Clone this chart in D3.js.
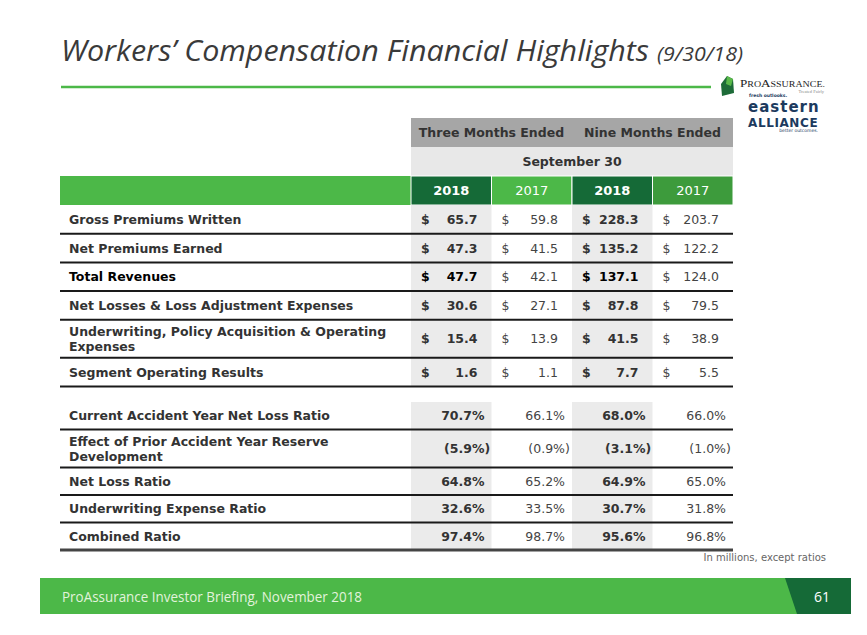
<!DOCTYPE html>
<html><head><meta charset="utf-8">
<script src="https://cdn.jsdelivr.net/npm/d3@7"></script>
<style>
html,body{margin:0;padding:0;background:#fff;}
svg{display:block;}
</style></head>
<body>
<script>
// ---------- DATA ----------
const title = "Workers\u2019 Compensation Financial Highlights";
const subtitle = "(9/30/18)";
const periodHeaders = ["Three Months Ended", "Nine Months Ended"];
const dateHeader = "September 30";
const columns = ["q3_2018", "q3_2017", "ytd_2018", "ytd_2017"];
const yearLabels = ["2018", "2017", "2018", "2017"];

const finCategories = ["Gross Premiums Written", "Net Premiums Earned", "Total Revenues",
  "Net Losses & Loss Adjustment Expenses", "Underwriting, Policy Acquisition & Operating|Expenses",
  "Segment Operating Results"];
const fin_q3_2018 = [65.7, 47.3, 47.7, 30.6, 15.4, 1.6];
const fin_q3_2017 = [59.8, 41.5, 42.1, 27.1, 13.9, 1.1];
const fin_ytd_2018 = [228.3, 135.2, 137.1, 87.8, 41.5, 7.7];
const fin_ytd_2017 = [203.7, 122.2, 124.0, 79.5, 38.9, 5.5];

const ratioCategories = ["Current Accident Year Net Loss Ratio", "Effect of Prior Accident Year Reserve|Development",
  "Net Loss Ratio", "Underwriting Expense Ratio", "Combined Ratio"];
const ratio_q3_2018 = [70.7, -5.9, 64.8, 32.6, 97.4];
const ratio_q3_2017 = [66.1, -0.9, 65.2, 33.5, 98.7];
const ratio_ytd_2018 = [68.0, -3.1, 64.9, 30.7, 95.6];
const ratio_ytd_2017 = [66.0, -1.0, 65.0, 31.8, 96.8];

const footnote = "In millions, except ratios";
const footerText = "ProAssurance Investor Briefing, November 2018";
const pageNumber = "61";

// ---------- LAYOUT ----------
const W = 867, H = 635;
const svg = d3.select("body").append("svg").attr("width", W).attr("height", H);
const dark = "#333333", greenL = "#4cb848", greenD = "#156a37", greenM = "#3d9b3c";
const FONT = "'DejaVu Sans', Verdana, sans-serif";
const TFONT = "'Open Sans', 'Liberation Sans', sans-serif";

// Title
svg.append("text").attr("x", 61).attr("y", 61).attr("font-family", TFONT).attr("font-weight", 400)
  .attr("font-style", "italic").attr("font-size", 30).attr("fill", "#3a3a3a")
  .attr("textLength", 588).attr("lengthAdjust", "spacingAndGlyphs").text(title);
svg.append("text").attr("x", 657).attr("y", 61).attr("font-family", TFONT).attr("font-weight", 400)
  .attr("font-style", "italic").attr("font-size", 20).attr("fill", "#3a3a3a")
  .attr("textLength", 86).attr("lengthAdjust", "spacingAndGlyphs").text(subtitle);
svg.append("line").attr("x1", 61).attr("x2", 711).attr("y1", 87).attr("y2", 87)
  .attr("stroke", greenL).attr("stroke-width", 2.5);

// Logo
const logo = svg.append("g");
logo.append("path").attr("d", "M727,76 L733,79 L734,93 L722,96 L721,84 Z").attr("fill", "#1d6b38");
logo.append("path").attr("d", "M727,76 L733,79 L731,86 L726,84 Z").attr("fill", "#5ab94a");
logo.append("text").attr("x", 740).attr("y", 87).attr("font-family", "'Liberation Serif', serif")
  .attr("font-size", 10.5).attr("fill", "#222").attr("textLength", 85).attr("lengthAdjust", "spacingAndGlyphs")
  .html("P<tspan font-size='8'>RO</tspan>A<tspan font-size='8'>SSURANCE.</tspan>");
logo.append("text").attr("x", 824).attr("y", 93).attr("text-anchor", "end").attr("font-family", "'Liberation Serif', serif")
  .attr("font-size", 4.5).attr("fill", "#888").text("Treated Fairly");
logo.append("text").attr("x", 749).attr("y", 97).attr("font-family", FONT).attr("font-weight", "bold")
  .attr("font-size", 4.5).attr("fill", "#1c3a5e").text("fresh outlooks.");
logo.append("text").attr("x", 748).attr("y", 112).attr("font-family", FONT).attr("font-weight", "bold")
  .attr("font-size", 15).attr("letter-spacing", 1).attr("fill", "#1c3a5e").text("eastern");
logo.append("text").attr("x", 748).attr("y", 126.5).attr("font-family", FONT).attr("font-weight", "bold")
  .attr("font-size", 12).attr("letter-spacing", 0.6).attr("fill", "#1c3a5e").text("ALLIANCE");
logo.append("text").attr("x", 818).attr("y", 132).attr("text-anchor", "end").attr("font-family", FONT)
  .attr("font-size", 4.5).attr("fill", "#1c3a5e").text("better outcomes.");

// Column scale
const x = d3.scaleBand().domain(columns).range([411, 733]).padding(0);
const bw = x.bandwidth();
const labelX0 = 60, labelX = 69, tableRight = 733;

// Header bands
svg.append("rect").attr("x", 411).attr("y", 118).attr("width", tableRight - 411).attr("height", 29).attr("fill", "#a6a6a6");
svg.append("rect").attr("x", 411).attr("y", 147).attr("width", tableRight - 411).attr("height", 29).attr("fill", "#e8e8e8");
periodHeaders.forEach((t, i) => {
  svg.append("text").attr("x", x(columns[i * 2]) + bw).attr("y", 137).attr("text-anchor", "middle")
    .attr("font-family", FONT).attr("font-weight", "bold").attr("font-size", 12.5).attr("fill", dark).text(t);
});
svg.append("text").attr("x", (411 + tableRight) / 2).attr("y", 166).attr("text-anchor", "middle")
  .attr("font-family", FONT).attr("font-weight", "bold").attr("font-size", 12.5).attr("fill", dark).text(dateHeader);

// Year row
const yearFill = [greenD, greenL, greenD, greenM];
svg.append("rect").attr("x", labelX0).attr("y", 176).attr("width", 411 - labelX0).attr("height", 29).attr("fill", greenL);
svg.selectAll("rect.year").data(columns).enter().append("rect").attr("class", "year")
  .attr("x", d => x(d)).attr("y", 176).attr("width", bw).attr("height", 29)
  .attr("fill", (d, i) => yearFill[i]).attr("stroke", "#fff").attr("stroke-width", 1);
svg.selectAll("text.year").data(columns).enter().append("text").attr("class", "year")
  .attr("x", d => x(d) + bw / 2).attr("y", 195).attr("text-anchor", "middle")
  .attr("font-family", FONT).attr("font-size", 13).attr("fill", "#fff")
  .attr("font-weight", (d, i) => i % 2 === 0 ? "bold" : "normal").text((d, i) => yearLabels[i]);

// Section builder
function section(cats, series, y0, single, dbl, fmt, lastStyle) {
  const heights = cats.map(c => c.includes("|") ? dbl : single);
  const ys = []; let acc = y0;
  heights.forEach(h => { ys.push(acc); acc += h; });
  const yEnd = acc;
  [0, 2].forEach(ci => svg.append("rect").attr("x", x(columns[ci])).attr("y", y0).attr("width", bw)
    .attr("height", yEnd - y0).attr("fill", "#ebebeb"));
  cats.forEach((c, r) => {
    const cy = ys[r] + heights[r] / 2;
    const lines = c.split("|");
    const isTotal = c === "Total Revenues";
    const col = isTotal ? "#000" : dark;
    lines.forEach((ln, li) => {
      svg.append("text").attr("x", labelX).attr("y", cy + 4.5 + (li - (lines.length - 1) / 2) * 15)
        .attr("font-family", FONT).attr("font-weight", "bold").attr("font-size", 12.5).attr("fill", col).text(ln);
    });
    columns.forEach((k, ci) => fmt(series[ci][r], x(k), cy + 4.5, ci % 2 === 0, col));
    const last = r === cats.length - 1;
    svg.append("line").attr("x1", labelX0).attr("x2", tableRight).attr("y1", ys[r] + heights[r]).attr("y2", ys[r] + heights[r])
      .attr("stroke", last && lastStyle ? "#444" : "#1a1a1a").attr("stroke-width", last && lastStyle ? 3 : 2);
  });
}

const money = (v, cx, y, bold, col) => {
  svg.append("text").attr("x", cx + 10).attr("y", y).attr("font-family", FONT).attr("font-size", 12.5)
    .attr("font-weight", bold ? "bold" : "normal").attr("fill", bold ? col : "#444").text("$");
  svg.append("text").attr("x", cx + bw - 14).attr("y", y).attr("text-anchor", "end").attr("font-family", FONT)
    .attr("font-size", 12.5).attr("font-weight", bold ? "bold" : "normal").attr("fill", bold ? col : "#444")
    .text(d3.format(".1f")(v));
};
const pct = (v, cx, y, bold, col) => {
  const xr = cx + bw - 7;
  const c = bold ? col : "#444";
  const s = d3.format(".1f")(Math.abs(v)) + "%";
  if (v < 0) {
    svg.append("text").attr("x", xr).attr("y", y).attr("text-anchor", "end").attr("font-family", FONT)
      .attr("font-size", 12.5).attr("font-weight", bold ? "bold" : "normal").attr("fill", c).text("(" + s);
    svg.append("text").attr("x", xr).attr("y", y).attr("font-family", FONT)
      .attr("font-size", 12.5).attr("font-weight", bold ? "bold" : "normal").attr("fill", c).text(")");
  } else {
    svg.append("text").attr("x", xr).attr("y", y).attr("text-anchor", "end").attr("font-family", FONT)
      .attr("font-size", 12.5).attr("font-weight", bold ? "bold" : "normal").attr("fill", c).text(s);
  }
};

section(finCategories, [fin_q3_2018, fin_q3_2017, fin_ytd_2018, fin_ytd_2017], 205, 28.7, 38, money, false);
section(ratioCategories, [ratio_q3_2018, ratio_q3_2017, ratio_ytd_2018, ratio_ytd_2017], 402, 27.5, 38, pct, true);

// Footnote
svg.append("text").attr("x", 826).attr("y", 561).attr("text-anchor", "end").attr("font-family", FONT)
  .attr("font-size", 10).attr("fill", "#666").text(footnote);

// Footer
svg.append("rect").attr("x", 40).attr("y", 578).attr("width", 811).attr("height", 36).attr("fill", greenL);
svg.append("path").attr("d", "M785,578 L851,578 L851,614 L797,614 Z").attr("fill", greenD);
svg.append("text").attr("x", 62).attr("y", 602).attr("font-family", TFONT).attr("font-weight", 400)
  .attr("font-size", 15).attr("fill", "#e2f3dc").attr("textLength", 300).attr("lengthAdjust", "spacingAndGlyphs").text(footerText);
svg.append("text").attr("x", 822).attr("y", 602).attr("text-anchor", "middle").attr("font-family", TFONT)
  .attr("font-size", 14).attr("fill", "#fff").text(pageNumber);
</script>
</body></html>
